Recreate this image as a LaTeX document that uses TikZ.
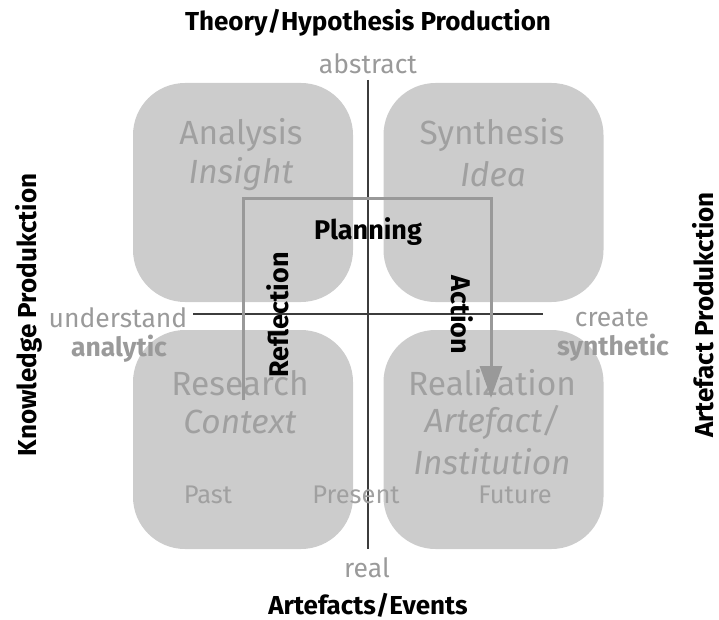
\documentclass[tikz,border=0pt]{standalone}
\usepackage{fontspec}
\setmainfont{Fira Sans}
\usetikzlibrary{arrows.meta}
\definecolor{boxfill}{HTML}{CCCCCC}
\definecolor{boxtext}{HTML}{A0A0A0}
\definecolor{axislabel}{HTML}{9A9A9A}
\definecolor{flow}{HTML}{999999}
\definecolor{axisline}{HTML}{3C3C3C}
\begin{document}
\begin{tikzpicture}[x=1pt,y=-1pt,
  quadrant/.style={fill=boxfill, rounded corners=52pt, minimum width=220pt,
    minimum height=219pt, inner sep=0pt},
  qtitle/.style={text=boxtext, font=\fontsize{33.5}{38}\selectfont, inner sep=0pt},
  qsub/.style={text=boxtext, font=\fontsize{33.5}{38}\selectfont\itshape, inner sep=0pt},
  timelabel/.style={text=boxtext, font=\fontsize{25.5}{28}\selectfont, inner sep=0pt},
  axisword/.style={text=axislabel, font=\fontsize{26.5}{30}\selectfont, inner sep=0pt},
  axisbold/.style={text=axislabel, font=\fontsize{26.5}{30}\selectfont\bfseries, inner sep=0pt},
  heading/.style={text=black, font=\fontsize{26}{30}\selectfont\bfseries, inner sep=0pt},
  flowlabel/.style={text=black, font=\fontsize{27}{30}\selectfont\bfseries, inner sep=0pt},
  axis/.style={draw=axisline, line width=1.3pt},
  flowline/.style={draw=flow, line width=3pt, -{Triangle[length=32pt,width=22pt]}}
]
\useasboundingbox (0,0) rectangle (719,620);

% four quadrants
\node[quadrant] (analysis)    at (243,192.5) {};
\node[quadrant] (synthesis)   at (493.5,192.5) {};
\node[quadrant] (research)    at (243,439.5) {};
\node[quadrant] (realization) at (493.5,439.5) {};

% axes
\coordinate (top)    at (368,80);
\coordinate (bottom) at (368,549);
\coordinate (left)   at (193,314);
\coordinate (right)  at (543,314);
\draw[axis] (top) -- (bottom);
\draw[axis] (left) -- (right);

% quadrant texts
\node[qtitle] (analysisT)  at (241,135) {Analysis};
\node[qsub]   (analysisS)  at (241,174) {Insight};
\node[qtitle] (synthT)     at (492,135) {Synthesis};
\node[qsub]   (synthS)     at (493,174) {Idea};
\node[qtitle] (researchT)  at (240,383) {Research};
\node[qsub]   (researchS)  at (240,422) {Context};
\node[qtitle] (realT)      at (492,383) {Realization};
\node[qsub]   (realS1)     at (492,423) {Artefact/};
\node[qsub]   (realS2)     at (492,462) {Institution};
\node[timelabel] (past)    at (208,495) {Past};
\node[timelabel] (present) at (356,495) {Present};
\node[timelabel] (future)  at (515,495) {Future};

% axis labels
\node[heading] (theory)    at (368,23)  {Theory/Hypothesis Production};
\node[axisword] (abstract) at (368,64)  {abstract};
\node[axisword] (real)     at (367,568) {real};
\node[heading] (events)    at (368,605) {Artefacts/Events};
\node[axisword] (understand) at (118,318) {understand};
\node[axisbold] (analytic)   at (119,349) {analytic};
\node[axisword] (create)     at (612,318) {create};
\node[axisbold] (synthetic)  at (613,348) {synthetic};
\node[heading, rotate=90] (knowledge) at (29,315)  {Knowledge Produkction};
\node[heading, rotate=90] (artefactp) at (703,315) {Artefact Produkction};

% reflection - planning - action cycle
\coordinate (flowstart) at (243,400);
\coordinate (flowend)   at (491,398);
\draw[flowline] (flowstart) -- (243,199) -- (491,199) -- (flowend);
\node[flowlabel] (planning)   at (368,232) {Planning};
\node[flowlabel, rotate=90]  (reflection) at (278,315) {Reflection};
\node[flowlabel, rotate=-90] (action)     at (462,315) {Action};
\end{tikzpicture}
\end{document}
